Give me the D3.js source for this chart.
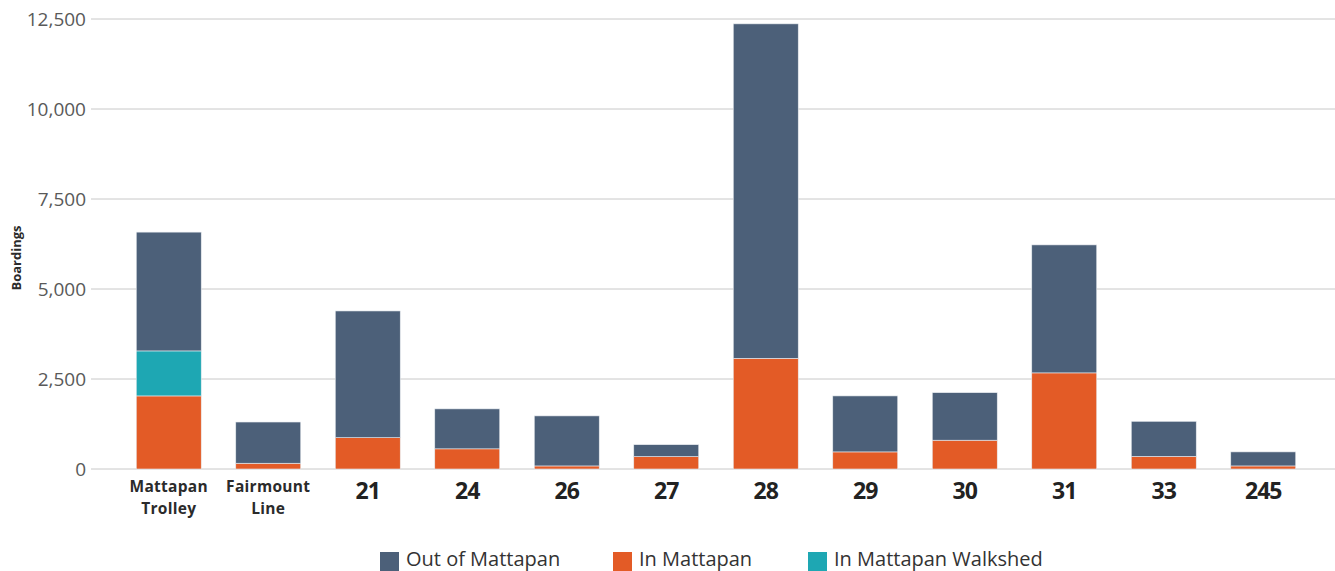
<!DOCTYPE html>
<html><head><meta charset="utf-8">
<script src="https://cdn.jsdelivr.net/npm/d3@7"></script>
<style>
body{margin:0;background:#fff;}
text{font-family:"Open Sans",sans-serif;}
</style></head>
<body><svg id="c" width="1335" height="571"></svg>
<script>
const categories = ["Mattapan Trolley","Fairmount Line","21","24","26","27","28","29","30","31","33","245"];
const inMattapan = [2030,160,870,560,85,345,3075,475,800,2670,350,85];
const inWalkshed = [1250,0,0,0,0,0,0,0,0,0,0,0];
const outMattapan = [3300,1145,3520,1110,1390,330,9290,1555,1320,3555,975,390];
const yTicks = [0,2500,5000,7500,10000,12500];
const seriesNames = ["Out of Mattapan","In Mattapan","In Mattapan Walkshed"];
const colors = {"Out of Mattapan":"#4c6079","In Mattapan":"#e35b26","In Mattapan Walkshed":"#1ea7b3"};

const svg = d3.select("#c");
const x = d3.scaleBand().domain(categories).range([119,1313]).paddingInner(0.347).paddingOuter(0.1735);
const y = d3.scaleLinear().domain([0,12500]).range([469,19]);

svg.append("g").selectAll("line").data(yTicks).join("line")
  .attr("x1",91).attr("x2",1335).attr("y1",d=>y(d)).attr("y2",d=>y(d))
  .attr("stroke","#c8c8c8").attr("stroke-width",1);

const yAxis = svg.append("g").attr("transform","translate(91,0)")
  .call(d3.axisLeft(y).tickValues(yTicks).tickFormat(d3.format(",")).tickSize(0).tickPadding(5));
yAxis.select(".domain").remove();
yAxis.selectAll("text").attr("font-size",19).attr("fill","#595959").attr("font-family","Open Sans");

const rows = categories.map((c,i)=>({cat:c,"In Mattapan":inMattapan[i],"In Mattapan Walkshed":inWalkshed[i],"Out of Mattapan":outMattapan[i]}));
const stack = d3.stack().keys(["In Mattapan","In Mattapan Walkshed","Out of Mattapan"]);
const layers = stack(rows);

svg.append("g").selectAll("g").data(layers).join("g")
  .attr("fill",d=>colors[d.key])
  .selectAll("rect").data(d=>d.filter(p=>p[1]-p[0]>0)).join("rect")
  .attr("x",d=>x(d.data.cat)).attr("width",x.bandwidth())
  .attr("y",d=>y(d[1])).attr("height",d=>y(d[0])-y(d[1]))
  .attr("stroke","#e8ecf0").attr("stroke-width",0.6);

const xl = svg.append("g");
categories.forEach(c=>{
  const cx = x(c)+x.bandwidth()/2;
  const parts = c.split(" ");
  if (parts.length>1){
    parts.forEach((p,j)=>{
      xl.append("text").attr("x",cx).attr("y",492+j*21.5).attr("text-anchor","middle")
        .attr("font-size",15.5).attr("font-weight","bold").attr("fill","#2b2b2b")
        .attr("letter-spacing",0.3).text(p);
    });
  } else {
    xl.append("text").attr("x",cx).attr("y",499).attr("text-anchor","middle")
      .attr("font-size",23).attr("font-weight","bold").attr("fill","#222")
      .attr("letter-spacing",-1).text(c);
  }
});

svg.append("text").attr("transform","translate(21,258) rotate(-90)").attr("text-anchor","middle")
  .attr("font-size",13).attr("font-weight","bold").attr("fill","#2b2b2b").text("Boardings");

const legX = [380,613,808];
const lg = svg.append("g");
seriesNames.forEach((s,i)=>{
  lg.append("rect").attr("x",legX[i]).attr("y",552).attr("width",19).attr("height",19).attr("fill",colors[s]);
  lg.append("text").attr("x",legX[i]+26).attr("y",566).attr("font-size",20).attr("fill","#333").text(s);
});
</script></body></html>
